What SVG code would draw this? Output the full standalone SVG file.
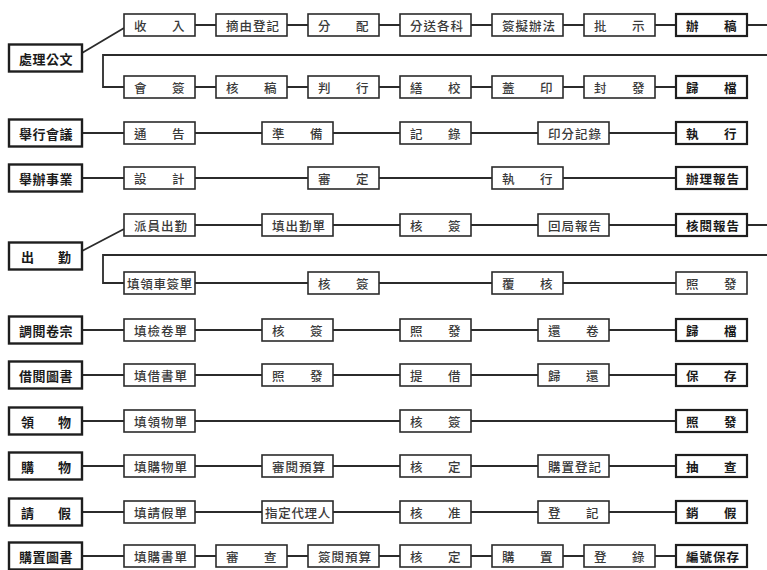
<svg xmlns="http://www.w3.org/2000/svg" width="767" height="570" viewBox="0 0 767 570">
<style>
.b{fill:#fff;stroke:#2b2b2b;stroke-width:1.6}
.e{fill:#fff;stroke:#1e1e1e;stroke-width:2.2}
.L{fill:#fff;stroke:#1e1e1e;stroke-width:2.4}
.t{font-family:"Noto Sans CJK TC","Noto Sans CJK JP",sans-serif;font-size:12.5px;fill:#3a3a3a;font-weight:500;dominant-baseline:central}
.te{font-family:"Noto Sans CJK TC","Noto Sans CJK JP",sans-serif;font-size:12.5px;fill:#1a1a1a;font-weight:700;dominant-baseline:central}
.tl{font-family:"Noto Sans CJK TC","Noto Sans CJK JP",sans-serif;font-size:13px;fill:#1a1a1a;font-weight:700;dominant-baseline:central}
.c{fill:none;stroke:#2b2b2b;stroke-width:1.8}
</style>
<rect width="767" height="570" fill="#fff"/>
<g id="connectors">
<path class="c" d="M82 53L124 28 M195 25H216 M287 25H308 M379 25H400 M471 25H492 M563 25H584 M655 25H676 M747 25H767 M767 55H103V87H124 M195 87H216 M287 87H308 M379 87H400 M471 87H492 M563 87H584 M655 87H676"/>
<path class="c" d="M82 133H124 M195 133H262 M333 133H400 M471 133H538 M609 133H676"/>
<path class="c" d="M82 178H124 M195 178H308 M379 178H492 M563 178H676"/>
<path class="c" d="M82 251L124 229 M195 225H262 M333 225H400 M471 225H538 M609 225H676 M747 225H767 M767 255H103V283H124 M195 283H308 M379 283H492 M563 283H676"/>
<path class="c" d="M82 330H124 M195 330H262 M333 330H400 M471 330H538 M609 330H676"/>
<path class="c" d="M82 375H124 M195 375H262 M333 375H400 M471 375H538 M609 375H676"/>
<path class="c" d="M82 421H124 M195 421H400 M471 421H676"/>
<path class="c" d="M82 466H124 M195 466H262 M333 466H400 M471 466H538 M609 466H676"/>
<path class="c" d="M82 512H124 M195 512H262 M333 512H400 M471 512H538 M609 512H676"/>
<path class="c" d="M82 556H124 M195 556H216 M287 556H308 M379 556H400 M471 556H492 M563 556H584 M655 556H676"/>
</g>
<!-- row 1 -->
<g id="n-chuli" transform="translate(9,44.5)"><rect class="L" width="73" height="27"/><text class="tl" x="10 23.5 37 50.5" y="13.5">處理公文</text></g>
<g id="n1-1" transform="translate(124,14)"><rect class="b" width="71" height="22"/><text class="t" x="10 48" y="11">收入</text></g>
<g id="n1-2" transform="translate(216,14)"><rect class="b" width="71" height="22"/><text class="t" x="10 23.5 37 50.5" y="11">摘由登記</text></g>
<g id="n1-3" transform="translate(308,14)"><rect class="b" width="71" height="22"/><text class="t" x="10 48" y="11">分配</text></g>
<g id="n1-4" transform="translate(400,14)"><rect class="b" width="71" height="22"/><text class="t" x="10 23.5 37 50.5" y="11">分送各科</text></g>
<g id="n1-5" transform="translate(492,14)"><rect class="b" width="71" height="22"/><text class="t" x="10 23.5 37 50.5" y="11">簽擬辦法</text></g>
<g id="n1-6" transform="translate(584,14)"><rect class="b" width="71" height="22"/><text class="t" x="10 48" y="11">批示</text></g>
<g id="n1-7" transform="translate(676,14)"><rect class="e" width="71" height="22"/><text class="te" x="10 48" y="11">辦稿</text></g>
<g id="n1-8" transform="translate(124,76)"><rect class="b" width="71" height="22"/><text class="t" x="10 48" y="11">會簽</text></g>
<g id="n1-9" transform="translate(216,76)"><rect class="b" width="71" height="22"/><text class="t" x="10 48" y="11">核稿</text></g>
<g id="n1-10" transform="translate(308,76)"><rect class="b" width="71" height="22"/><text class="t" x="10 48" y="11">判行</text></g>
<g id="n1-11" transform="translate(400,76)"><rect class="b" width="71" height="22"/><text class="t" x="10 48" y="11">繕校</text></g>
<g id="n1-12" transform="translate(492,76)"><rect class="b" width="71" height="22"/><text class="t" x="10 48" y="11">蓋印</text></g>
<g id="n1-13" transform="translate(584,76)"><rect class="b" width="71" height="22"/><text class="t" x="10 48" y="11">封發</text></g>
<g id="n1-14" transform="translate(676,76)"><rect class="e" width="71" height="22"/><text class="te" x="10 48" y="11">歸檔</text></g>
<!-- row 2 -->
<g id="n-huiyi" transform="translate(9,119.5)"><rect class="L" width="73" height="27"/><text class="tl" x="10 23.5 37 50.5" y="13.5">舉行會議</text></g>
<g id="n2-1" transform="translate(124,122)"><rect class="b" width="71" height="22"/><text class="t" x="10 48" y="11">通告</text></g>
<g id="n2-2" transform="translate(262,122)"><rect class="b" width="71" height="22"/><text class="t" x="10 48" y="11">準備</text></g>
<g id="n2-3" transform="translate(400,122)"><rect class="b" width="71" height="22"/><text class="t" x="10 48" y="11">記錄</text></g>
<g id="n2-4" transform="translate(538,122)"><rect class="b" width="71" height="22"/><text class="t" x="10 23.5 37 50.5" y="11">印分記錄</text></g>
<g id="n2-5" transform="translate(676,122)"><rect class="e" width="71" height="22"/><text class="te" x="10 48" y="11">執行</text></g>
<!-- row 3 -->
<g id="n-shiye" transform="translate(9,164.5)"><rect class="L" width="73" height="27"/><text class="tl" x="10 23.5 37 50.5" y="13.5">舉辦事業</text></g>
<g id="n3-1" transform="translate(124,167)"><rect class="b" width="71" height="22"/><text class="t" x="10 48" y="11">設計</text></g>
<g id="n3-2" transform="translate(308,167)"><rect class="b" width="71" height="22"/><text class="t" x="10 48" y="11">審定</text></g>
<g id="n3-3" transform="translate(492,167)"><rect class="b" width="71" height="22"/><text class="t" x="10 48" y="11">執行</text></g>
<g id="n3-4" transform="translate(676,167)"><rect class="e" width="71" height="22"/><text class="te" x="10 23.5 37 50.5" y="11">辦理報告</text></g>
<!-- row 4 -->
<g id="n-chuqin" transform="translate(9,242.5)"><rect class="L" width="73" height="27"/><text class="tl" x="12 49" y="13.5">出勤</text></g>
<g id="n4-1" transform="translate(124,214)"><rect class="b" width="71" height="22"/><text class="t" x="10 23.5 37 50.5" y="11">派員出勤</text></g>
<g id="n4-2" transform="translate(262,214)"><rect class="b" width="71" height="22"/><text class="t" x="10 23.5 37 50.5" y="11">填出勤單</text></g>
<g id="n4-3" transform="translate(400,214)"><rect class="b" width="71" height="22"/><text class="t" x="10 48" y="11">核簽</text></g>
<g id="n4-4" transform="translate(538,214)"><rect class="b" width="71" height="22"/><text class="t" x="10 23.5 37 50.5" y="11">回局報告</text></g>
<g id="n4-5" transform="translate(676,214)"><rect class="e" width="71" height="22"/><text class="te" x="10 23.5 37 50.5" y="11">核閱報告</text></g>
<g id="n4-6" transform="translate(124,272)"><rect class="b" width="71" height="22"/><text class="t" x="3 16.2 29.4 42.6 55.8" y="11">填領車簽單</text></g>
<g id="n4-7" transform="translate(308,272)"><rect class="b" width="71" height="22"/><text class="t" x="10 48" y="11">核簽</text></g>
<g id="n4-8" transform="translate(492,272)"><rect class="b" width="71" height="22"/><text class="t" x="10 48" y="11">覆核</text></g>
<g id="n4-9" transform="translate(676,272)"><rect class="b" width="71" height="22"/><text class="t" x="10 48" y="11">照發</text></g>
<!-- row 5 -->
<g id="n-juanzong" transform="translate(9,316.5)"><rect class="L" width="73" height="27"/><text class="tl" x="10 23.5 37 50.5" y="13.5">調閱卷宗</text></g>
<g id="n5-1" transform="translate(124,319)"><rect class="b" width="71" height="22"/><text class="t" x="10 23.5 37 50.5" y="11">填檢卷單</text></g>
<g id="n5-2" transform="translate(262,319)"><rect class="b" width="71" height="22"/><text class="t" x="10 48" y="11">核簽</text></g>
<g id="n5-3" transform="translate(400,319)"><rect class="b" width="71" height="22"/><text class="t" x="10 48" y="11">照發</text></g>
<g id="n5-4" transform="translate(538,319)"><rect class="b" width="71" height="22"/><text class="t" x="10 48" y="11">還卷</text></g>
<g id="n5-5" transform="translate(676,319)"><rect class="e" width="71" height="22"/><text class="te" x="10 48" y="11">歸檔</text></g>
<!-- row 6 -->
<g id="n-tushu" transform="translate(9,361.5)"><rect class="L" width="73" height="27"/><text class="tl" x="10 23.5 37 50.5" y="13.5">借閱圖書</text></g>
<g id="n6-1" transform="translate(124,364)"><rect class="b" width="71" height="22"/><text class="t" x="10 23.5 37 50.5" y="11">填借書單</text></g>
<g id="n6-2" transform="translate(262,364)"><rect class="b" width="71" height="22"/><text class="t" x="10 48" y="11">照發</text></g>
<g id="n6-3" transform="translate(400,364)"><rect class="b" width="71" height="22"/><text class="t" x="10 48" y="11">提借</text></g>
<g id="n6-4" transform="translate(538,364)"><rect class="b" width="71" height="22"/><text class="t" x="10 48" y="11">歸還</text></g>
<g id="n6-5" transform="translate(676,364)"><rect class="e" width="71" height="22"/><text class="te" x="10 48" y="11">保存</text></g>
<!-- row 7 -->
<g id="n-lingwu" transform="translate(9,407.5)"><rect class="L" width="73" height="27"/><text class="tl" x="12 49" y="13.5">領物</text></g>
<g id="n7-1" transform="translate(124,410)"><rect class="b" width="71" height="22"/><text class="t" x="10 23.5 37 50.5" y="11">填領物單</text></g>
<g id="n7-2" transform="translate(400,410)"><rect class="b" width="71" height="22"/><text class="t" x="10 48" y="11">核簽</text></g>
<g id="n7-3" transform="translate(676,410)"><rect class="e" width="71" height="22"/><text class="te" x="10 48" y="11">照發</text></g>
<!-- row 8 -->
<g id="n-gouwu" transform="translate(9,452.5)"><rect class="L" width="73" height="27"/><text class="tl" x="12 49" y="13.5">購物</text></g>
<g id="n8-1" transform="translate(124,455)"><rect class="b" width="71" height="22"/><text class="t" x="10 23.5 37 50.5" y="11">填購物單</text></g>
<g id="n8-2" transform="translate(262,455)"><rect class="b" width="71" height="22"/><text class="t" x="10 23.5 37 50.5" y="11">審閱預算</text></g>
<g id="n8-3" transform="translate(400,455)"><rect class="b" width="71" height="22"/><text class="t" x="10 48" y="11">核定</text></g>
<g id="n8-4" transform="translate(538,455)"><rect class="b" width="71" height="22"/><text class="t" x="10 23.5 37 50.5" y="11">購置登記</text></g>
<g id="n8-5" transform="translate(676,455)"><rect class="e" width="71" height="22"/><text class="te" x="10 48" y="11">抽查</text></g>
<!-- row 9 -->
<g id="n-qingjia" transform="translate(9,498.5)"><rect class="L" width="73" height="27"/><text class="tl" x="12 49" y="13.5">請假</text></g>
<g id="n9-1" transform="translate(124,501)"><rect class="b" width="71" height="22"/><text class="t" x="10 23.5 37 50.5" y="11">填請假單</text></g>
<g id="n9-2" transform="translate(262,501)"><rect class="b" width="71" height="22"/><text class="t" x="3 16.2 29.4 42.6 55.8" y="11">指定代理人</text></g>
<g id="n9-3" transform="translate(400,501)"><rect class="b" width="71" height="22"/><text class="t" x="10 48" y="11">核准</text></g>
<g id="n9-4" transform="translate(538,501)"><rect class="b" width="71" height="22"/><text class="t" x="10 48" y="11">登記</text></g>
<g id="n9-5" transform="translate(676,501)"><rect class="e" width="71" height="22"/><text class="te" x="10 48" y="11">銷假</text></g>
<!-- row 10 -->
<g id="n-gouzhi" transform="translate(9,542.5)"><rect class="L" width="73" height="27"/><text class="tl" x="10 23.5 37 50.5" y="13.5">購置圖書</text></g>
<g id="n10-1" transform="translate(124,545)"><rect class="b" width="71" height="22"/><text class="t" x="10 23.5 37 50.5" y="11">填購書單</text></g>
<g id="n10-2" transform="translate(216,545)"><rect class="b" width="71" height="22"/><text class="t" x="10 48" y="11">審查</text></g>
<g id="n10-3" transform="translate(308,545)"><rect class="b" width="71" height="22"/><text class="t" x="10 23.5 37 50.5" y="11">簽閱預算</text></g>
<g id="n10-4" transform="translate(400,545)"><rect class="b" width="71" height="22"/><text class="t" x="10 48" y="11">核定</text></g>
<g id="n10-5" transform="translate(492,545)"><rect class="b" width="71" height="22"/><text class="t" x="10 48" y="11">購置</text></g>
<g id="n10-6" transform="translate(584,545)"><rect class="b" width="71" height="22"/><text class="t" x="10 48" y="11">登錄</text></g>
<g id="n10-7" transform="translate(676,545)"><rect class="e" width="71" height="22"/><text class="te" x="10 23.5 37 50.5" y="11">編號保存</text></g>
</svg>
